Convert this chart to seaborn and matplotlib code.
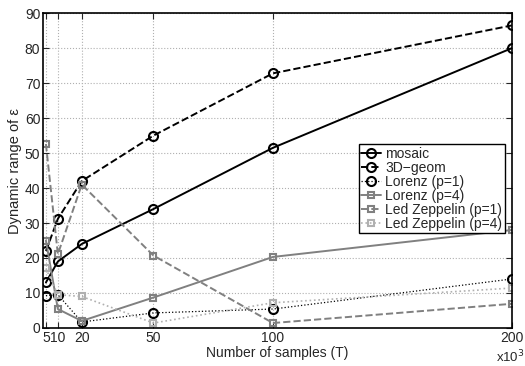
import numpy as np
import pandas as pd
import matplotlib
matplotlib.use("Agg")
import matplotlib.pyplot as plt
import seaborn as sns

# Data
samples = [5, 10, 20, 50, 100, 200]
mosaic = [13.0, 19.0, 24.0, 34.0, 51.5, 80.0]
geom3d = [22.0, 31.2, 42.0, 55.0, 72.8, 86.5]
lorenz_p1 = [9.2, 9.5, 1.7, 4.3, 5.4, 14.0]
lorenz_p4 = [25.0, 5.4, 2.0, 8.7, 20.3, 28.0]
zeppelin_p1 = [52.6, 21.1, 41.0, 20.7, 1.4, 6.9]
zeppelin_p4 = [17.0, 9.5, 9.0, 1.4, 7.2, 11.4]
tick_labels = ["5", "10", "20", "50", "100", "200"]

sns.set_style("white")
plt.rcParams["font.family"] = ["Liberation Sans", "DejaVu Sans"]
plt.rcParams["font.size"] = 10

fig = plt.figure(figsize=(5.25, 3.66), dpi=100)
ax = fig.add_axes([0.082, 0.104, 0.893, 0.86])

series = [
    ("mosaic", mosaic, "black", "-", "o", 6.5, 1.4),
    ("3D\u2212geom", geom3d, "black", "--", "o", 6.5, 1.4),
    ("Lorenz (p=1)", lorenz_p1, "black", ":", "o", 6.5, 0.9),
    ("Lorenz (p=4)", lorenz_p4, "#808080", "-", "s", 4.5, 1.4),
    ("Led Zeppelin (p=1)", zeppelin_p1, "#808080", "--", "s", 4.5, 1.4),
    ("Led Zeppelin (p=4)", zeppelin_p4, "#b0b0b0", ":", "s", 4.5, 1.2),
]

for name, vals, color, ls, mk, ms, lw in series:
    sns.lineplot(x=samples, y=vals, ax=ax, color=color, linestyle=ls,
                 marker=mk, markersize=ms, markerfacecolor="none",
                 markeredgecolor=color, markeredgewidth=1.5, linewidth=lw,
                 label=name)

ax.set_xlim(3.8, 200)
ax.set_ylim(0, 90)
ax.set_xticks(samples)
ax.set_xticklabels(tick_labels)
ax.set_yticks(np.arange(0, 91, 10))
ax.grid(True, color="#b0b0b0", linestyle=":", linewidth=0.8)
ax.tick_params(direction="in", length=4, width=0.8, right=True, top=True,
               bottom=True, left=True, pad=2, labelsize=10)
for sp in ax.spines.values():
    sp.set_color("black")
    sp.set_linewidth(1.2)

ax.set_xlabel("Number of samples (T)", labelpad=1, fontsize=10)
ax.set_ylabel("Dynamic range of \u03b5", labelpad=2, fontsize=10.5)
fig.text(0.972, 0.002, "x10$^3$", ha="center", va="bottom", fontsize=9.5)

leg = ax.legend(loc="upper right", bbox_to_anchor=(0.985, 0.585),
                frameon=True, fancybox=False, edgecolor="black",
                framealpha=1, borderpad=0.2, labelspacing=0.0,
                handlelength=1.4, handletextpad=0.3, borderaxespad=0.0,
                fontsize=10)
leg.get_frame().set_linewidth(1.0)

fig.savefig("out.png", dpi=100)
